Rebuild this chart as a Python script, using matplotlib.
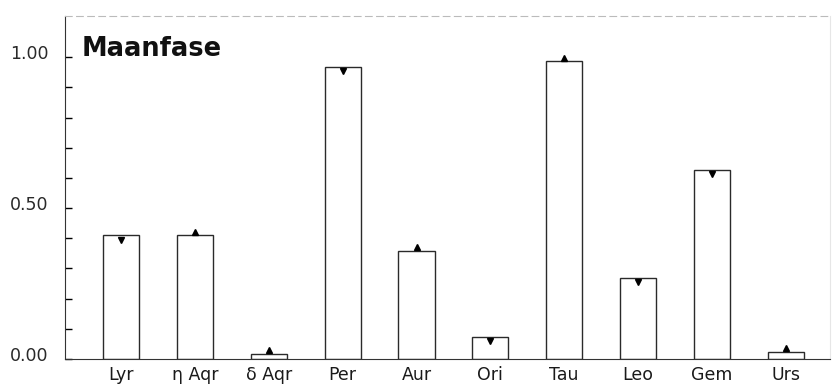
import matplotlib.pyplot as plt
import matplotlib.transforms as mtransforms
import numpy as np

plt.rcParams['font.family'] = ['DejaVu Sans']

showers = ["Lyr", "η Aqr", "δ Aqr", "Per", "Aur", "Ori", "Tau", "Leo", "Gem", "Urs"]
phase = [0.41, 0.41, 0.017, 0.967, 0.358, 0.073, 0.987, 0.27, 0.626, 0.023]
# True = waxing (triangle up), False = waning (triangle down)
waxing = [False, True, True, False, True, False, True, False, False, True]

fig = plt.figure(figsize=(8.35, 3.85), dpi=100)
ax = fig.add_axes([0.078, 0.0675, 0.916, 0.8905])

x = np.arange(len(showers))
ax.bar(x, phase, width=0.49, facecolor="white", edgecolor="#2a2a2a", linewidth=1.0, zorder=2)

for xi, yi, up in zip(x, phase, waxing):
    if up:
        ax.plot(xi, yi + 0.012, marker="^", markersize=5, color="black", zorder=3)
    else:
        ax.plot(xi, yi - 0.014, marker="v", markersize=5, color="black", zorder=3)

ax.set_xlim(-0.76, 9.6)
ax.set_ylim(0, 1.136)
ax.set_xticks(x)
ax.set_xticklabels(showers, fontsize=12.5, color="#1a1a1a")
ax.set_yticks([0.0, 0.5, 1.0])
ax.set_yticklabels(["0.00", "0.50", "1.00"], fontsize=12.5, color="#2a2a2a")
ax.set_yticks(np.arange(0, 1.01, 0.1), minor=True)
ax.tick_params(axis="y", which="both", direction="in", length=5, width=1.0, pad=12)
ax.tick_params(axis="x", length=0, pad=5)

# y labels sit a little above their ticks in the original
shift = mtransforms.ScaledTranslation(0, 5 / 100, fig.dpi_scale_trans)
for lab in ax.get_yticklabels():
    lab.set_transform(lab.get_transform() + shift)

ax.spines["left"].set_color("#333333")
ax.spines["bottom"].set_color("#333333")
ax.spines["top"].set_color("#bbbbbb")
ax.spines["top"].set_linestyle((0, (6, 4)))
ax.spines["right"].set_color("#e6e6e6")

ax.text(0.022, 0.905, "Maanfase", transform=ax.transAxes, fontsize=18.5,
        fontweight="bold", color="#111111", va="center", ha="left")

plt.savefig("out.png", dpi=100)
plt.close()
